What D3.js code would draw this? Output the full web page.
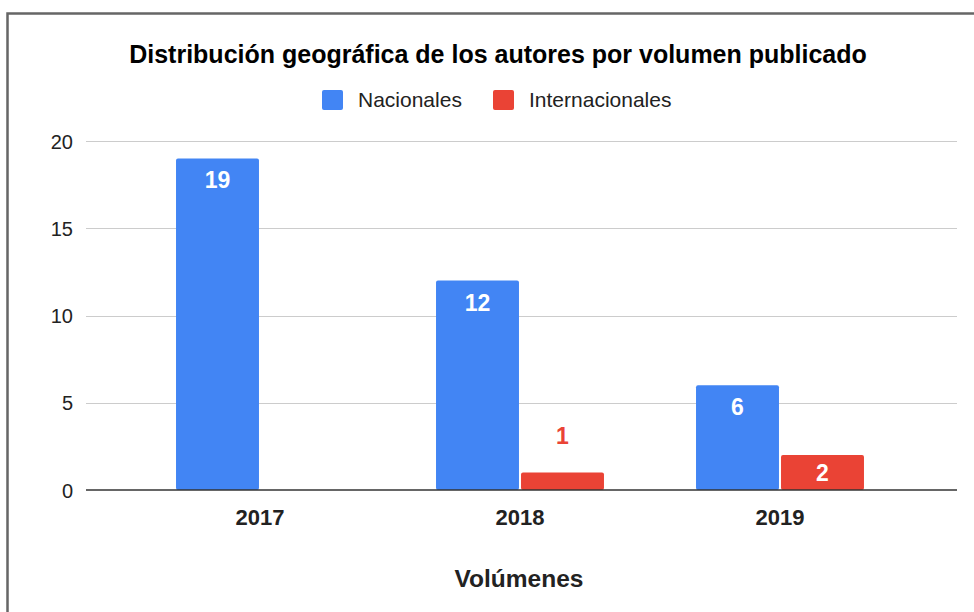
<!DOCTYPE html>
<html><head><meta charset="utf-8">
<script src="https://cdn.jsdelivr.net/npm/d3@7"></script>
<style>body{margin:0;background:#fff;}svg{display:block;font-family:"Liberation Sans",Arial,sans-serif;}</style>
</head><body>
<script>
const categories = ["2017", "2018", "2019"];
const seriesNames = ["Nacionales", "Internacionales"];
const nacionales = [19, 12, 6];
const internacionales = [0, 1, 2];
const yTicks = [0, 5, 10, 15, 20];
const colors = ["#4285f4", "#ea4335"];
const title = "Distribución geográfica de los autores por volumen publicado";
const xTitle = "Volúmenes";

const W = 974, H = 612;
const svg = d3.select("body").append("svg").attr("width", W).attr("height", H);

// frame
svg.append("rect").attr("x", 7.5).attr("y", 13.5).attr("width", W + 20).attr("height", H + 20)
  .attr("fill", "none").attr("stroke", "#666").attr("stroke-width", 2.5);

const y = d3.scaleLinear().domain([0, 20]).range([490, 141]);
const x = d3.scaleBand().domain(categories).range([130, 910]).paddingInner(0.354).paddingOuter(0.177);
const xs = d3.scaleBand().domain(seriesNames).range([0, x.bandwidth()]).paddingInner(0.024);

// gridlines
svg.append("g").selectAll("line").data(yTicks.filter(d => d !== 0)).join("line")
  .attr("x1", 86).attr("x2", 957).attr("y1", d => Math.round(y(d)) + 0.5).attr("y2", d => Math.round(y(d)) + 0.5)
  .attr("stroke", "#cccccc").attr("stroke-width", 1);

// y axis labels
const yAxis = d3.axisLeft(y).tickValues(yTicks).tickSize(0).tickPadding(0);
const gy = svg.append("g").attr("transform", "translate(73,0)").call(yAxis);
gy.select(".domain").remove();
gy.selectAll("text").attr("font-size", 20).attr("fill", "#222").attr("font-family", "Liberation Sans, Arial, sans-serif").attr("dy", "0.36em");

// bars
const rows = categories.map((c, i) => ({cat: c, vals: [nacionales[i], internacionales[i]]}));
const groups = svg.append("g").selectAll("g").data(rows).join("g")
  .attr("transform", d => `translate(${x(d.cat)},0)`);
const bars = groups.selectAll("g").data(d => d.vals.map((v, k) => ({v, k, name: seriesNames[k]}))).join("g");
bars.filter(d => d.v > 0).append("rect")
  .attr("x", d => xs(d.name)).attr("width", xs.bandwidth())
  .attr("y", d => y(d.v)).attr("height", d => y(0) - y(d.v))
  .attr("rx", 2).attr("fill", d => colors[d.k]);
bars.filter(d => d.v > 0).append("text")
  .attr("x", d => xs(d.name) + xs.bandwidth() / 2)
  .attr("y", d => {
    const h = y(0) - y(d.v);
    if (h >= 55) return y(d.v) + 30;
    if (h >= 25) return (y(d.v) + y(0)) / 2 + 8;
    return y(d.v) - 29;
  })
  .attr("text-anchor", "middle").attr("font-size", 23).attr("font-weight", "bold")
  .attr("fill", d => (y(0) - y(d.v) >= 25) ? "#fff" : colors[d.k])
  .text(d => d.v);

// baseline
svg.append("line").attr("x1", 86).attr("x2", 957).attr("y1", 490).attr("y2", 490)
  .attr("stroke", "#333").attr("stroke-width", 1.5);

// x axis labels
const xAxis = d3.axisBottom(x).tickSize(0).tickPadding(0);
const gx = svg.append("g").attr("transform", "translate(0,525)").call(xAxis);
gx.select(".domain").remove();
gx.selectAll("text").attr("dy", 0).attr("font-size", 22).attr("font-weight", "bold").attr("fill", "#222")
  .attr("font-family", "Liberation Sans, Arial, sans-serif");

// axis title
svg.append("text").attr("x", 519).attr("y", 587).attr("text-anchor", "middle")
  .attr("font-size", 24.5).attr("font-weight", "bold").attr("fill", "#222").text(xTitle);

// title
svg.append("text").attr("x", 498).attr("y", 63).attr("text-anchor", "middle")
  .attr("font-size", 25).attr("font-weight", "bold").attr("fill", "#000").text(title);

// legend
const legendX = [322, 493];
const lg = svg.append("g").selectAll("g").data(seriesNames).join("g")
  .attr("transform", (d, i) => `translate(${legendX[i]},90)`);
lg.append("rect").attr("width", 21).attr("height", 20).attr("rx", 2).attr("fill", (d, i) => colors[i]);
lg.append("text").attr("x", 36).attr("y", 16.5).attr("font-size", 21).attr("fill", "#222").text(d => d);
</script>
</body></html>
